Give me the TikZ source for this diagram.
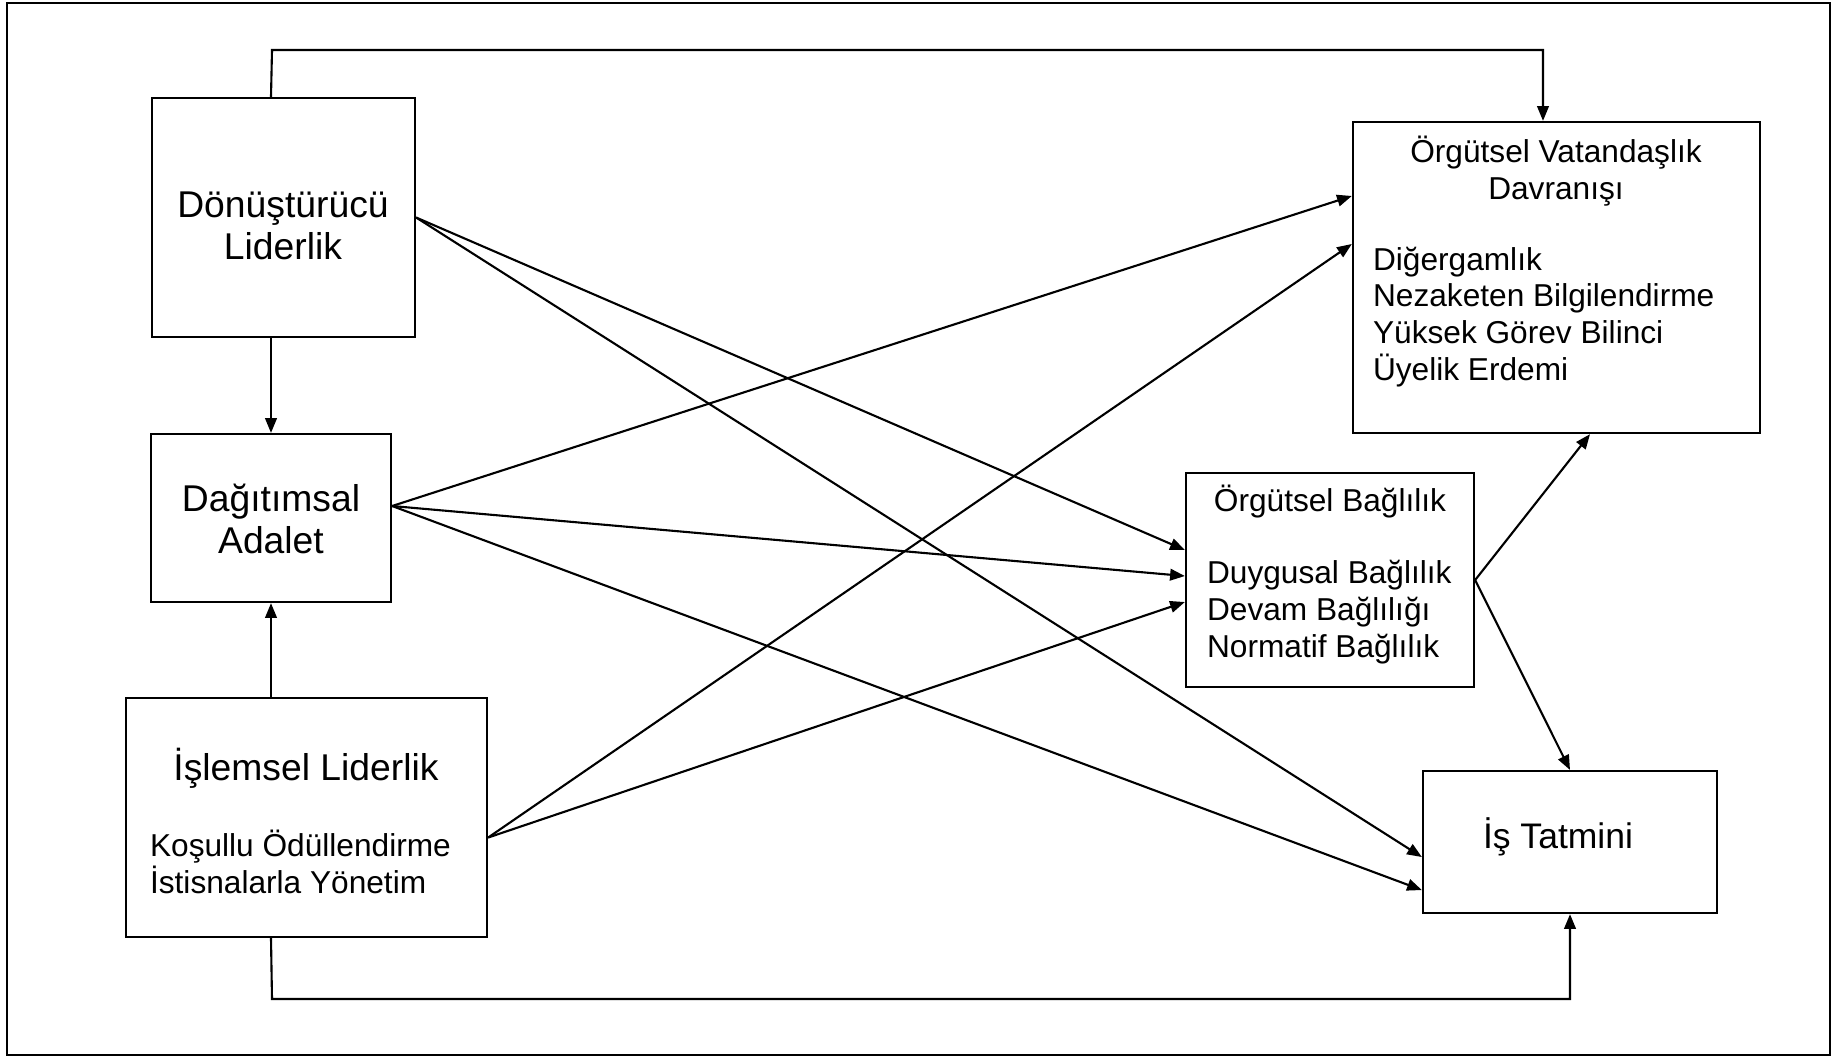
\documentclass[tikz,border=0pt]{standalone}
\usepackage{fontspec}
\setmainfont{Liberation Sans}
\usetikzlibrary{arrows.meta}
\begin{document}
\begin{tikzpicture}[x=0.01cm,y=-0.01cm,
  line width=0.6pt,
  box/.style={draw,rectangle,inner sep=0pt},
  big/.style={inner sep=0pt,align=center,font=\fontsize{10.6}{11.8}\selectfont},
  small/.style={inner sep=0pt,font=\fontsize{9}{10.5}\selectfont},
  arr/.style={-{Triangle[length=4.2pt,width=3.3pt]}}]
\useasboundingbox (0,0) rectangle (1836,1059);
% outer frame
\draw (7,3) rectangle (1830,1055);

% boxes
\node[box,minimum width=2.63cm,minimum height=2.39cm] (A) at (283.5,217.5) {};
\node[box,minimum width=2.40cm,minimum height=1.68cm] (B) at (271,518) {};
\node[box,minimum width=3.61cm,minimum height=2.39cm] (C) at (306.5,817.5) {};
\node[box,minimum width=4.07cm,minimum height=3.11cm] (V) at (1556.5,277.5) {};
\node[box,minimum width=2.88cm,minimum height=2.14cm] (O) at (1330,580) {};
\node[box,minimum width=2.94cm,minimum height=1.42cm] (T) at (1570,842) {};

% texts
\node[big] (Atext) at (283,226) {Dönüştürücü\\Liderlik};
\node[big] (Btext) at (271,519) {Dağıtımsal\\Adalet};
\node[big] (Ctitle) at (306,768) {İşlemsel Liderlik};
\node[small,align=left,anchor=west] (Clist) at (149,862) {Koşullu Ödüllendirme\\İstisnalarla Yönetim};
\node[small,align=center] (Vtitle) at (1556,171) {Örgütsel Vatandaşlık\\Davranışı};
\node[small,align=left,anchor=west] (Vlist) at (1372,317) {Diğergamlık\\Nezaketen Bilgilendirme\\Yüksek Görev Bilinci\\Üyelik Erdemi};
\node[small] (Otitle) at (1330,502) {Örgütsel Bağlılık};
\node[small,align=left,anchor=west] (Olist) at (1206,612.5) {Duygusal Bağlılık\\Devam Bağlılığı\\Normatif Bağlılık};
\node[big,font=\fontsize{10.1}{11}\selectfont] (Ttext) at (1558,837) {İş Tatmini};

% vertical links on the left
\draw[arr] (B.north |- A.south) -- (B.north);
\draw[arr] (B.south |- C.north) -- (B.south);

% long routes along top and bottom
\coordinate (topL) at (272,50);
\coordinate (botL) at (272,999);
\draw[arr] (B.north |- A.north) -- (topL) -| ([xshift=-0.135cm]V.north);
\draw[arr] (B.south |- C.south) -- (botL) -| (T.south);

% from Dönüştürücü Liderlik
\draw[arr] (A.east) -- ([yshift=0.30cm]O.west);
\draw[arr] (A.east) -- ([yshift=-0.15cm]T.west);

% from Dağıtımsal Adalet
\draw[arr] ([yshift=0.12cm]B.east) -- ([yshift=0.815cm]V.west);
\draw[arr] ([yshift=0.12cm]B.east) -- ([yshift=0.04cm]O.west);
\draw[arr] ([yshift=0.12cm]B.east) -- ([yshift=-0.48cm]T.west);

% from İşlemsel Liderlik
\draw[arr] ([yshift=-0.2cm]C.east) -- ([yshift=0.335cm]V.west);
\draw[arr] ([yshift=-0.2cm]C.east) -- ([yshift=-0.22cm]O.west);

% from Örgütsel Bağlılık
\draw[arr] (O.east) -- ([xshift=0.335cm]V.south);
\draw[arr] (O.east) -- (T.north);
\end{tikzpicture}
\end{document}
